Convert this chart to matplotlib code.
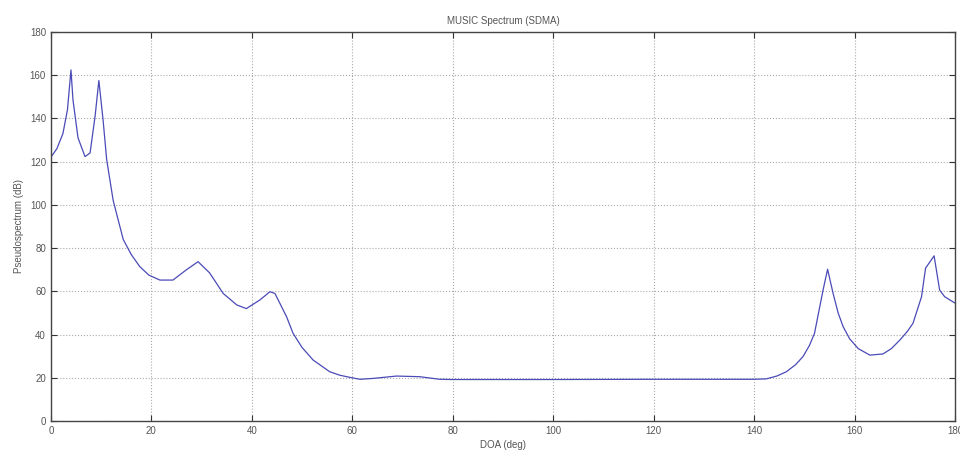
import matplotlib
matplotlib.use("Agg")
import matplotlib.pyplot as plt

# pseudospectrum (deg, dB)
doa = [0, 1.2, 2.4, 3.3, 4.0, 4.4, 5.4, 6.8, 7.8, 8.8, 9.55, 10.4, 11.1, 12.4,
       14.4, 16, 17.7, 19.5, 21.7, 24.3, 27, 29.3, 31.6, 34.3, 37, 38.9, 41.6,
       43.6, 44.6, 46.9, 48.2, 50, 52.2, 55.5, 57.5, 59.5, 61.5, 64.1, 68.8,
       73.4, 77.4, 80, 100, 120, 140, 142.4, 144.5, 146.4, 148.2, 149.7, 151,
       152, 153.7, 154.6, 155.7, 156.7, 157.7, 159, 160.7, 163, 165.6, 167.3,
       169, 170.5, 171.6, 173.3, 174.1, 175.8, 176.9, 177.9, 180]
spectrum = [122, 126, 133, 144, 162.4, 148.5, 131, 122.3, 124, 141, 157.5, 139,
            121, 102, 84, 77, 71.4, 67.5, 65.2, 65.2, 70, 73.7, 68.5, 59, 53.7,
            52, 56, 59.8, 59, 48.3, 40.6, 34, 28.2, 22.8, 21.2, 20.2, 19.3, 19.7,
            20.8, 20.5, 19.3, 19.2, 19.2, 19.3, 19.3, 19.5, 20.8, 22.8, 26, 29.8,
            35, 40.6, 60.6, 70.2, 59, 50, 43.6, 38, 33.5, 30.5, 31, 33.5, 37.5,
            41.5, 45.2, 57.5, 70.7, 76.4, 60.6, 57.5, 54.5]

plt.rcParams['font.family'] = ['Liberation Sans', 'DejaVu Sans']
plt.rcParams['font.size'] = 7

fig = plt.figure(figsize=(9.6, 4.62), dpi=100)
ax = fig.add_axes([0.053, 0.0887, 0.942, 0.8423])

ax.plot(doa, spectrum, color='#4a4ab8', linewidth=0.9)

ax.set_xlim(0, 180)
ax.set_ylim(0, 180)
ax.set_xticks(range(0, 181, 20))
ax.set_yticks(range(0, 181, 20))
ax.grid(True, linestyle=':', color='#aaaaaa', linewidth=0.8)
ax.tick_params(direction='in', length=4, colors='#333333', labelcolor='#555555',
               top=True, right=True)
for s in ax.spines.values():
    s.set_color('#444444')
    s.set_linewidth(1.0)

ax.set_title('MUSIC Spectrum (SDMA)', color='#555555', fontsize=7, pad=6)
ax.set_xlabel('DOA (deg)', color='#555555', fontsize=7, labelpad=3)
ax.set_ylabel('Pseudospectrum (dB)', color='#555555', fontsize=7, labelpad=4)

fig.savefig('out.png', dpi=100)
